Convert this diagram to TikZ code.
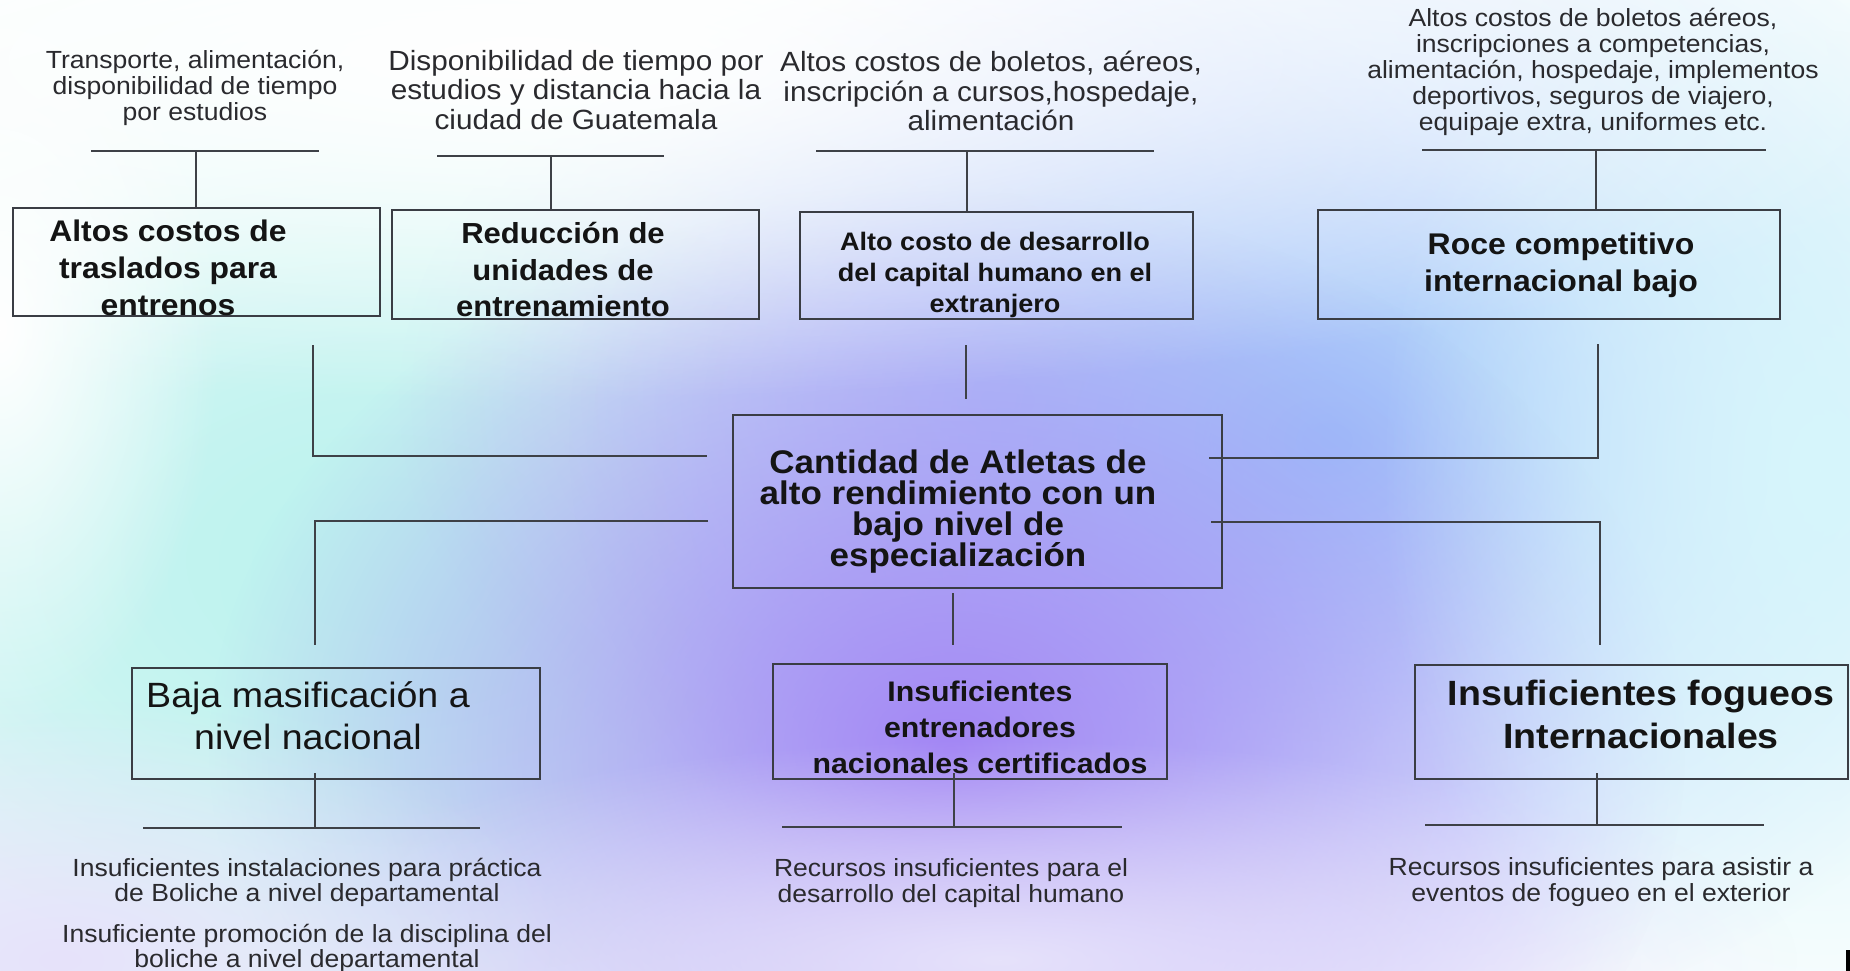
\documentclass[tikz,border=0pt]{standalone}
\usepackage{fontspec}
\setmainfont{Liberation Sans}[FakeStretch=1.07]
\usetikzlibrary{fadings}
\tikzfading[name=blob, inner color=transparent!0, outer color=transparent!100]
\definecolor{ln}{HTML}{3E4147}
\definecolor{bxc}{HTML}{3A3D44}
\definecolor{txt}{HTML}{2A2A2E}
\definecolor{cyanbg}{HTML}{BEF3EF}
\definecolor{bluebg}{HTML}{9EC6FA}
\definecolor{purpbg}{HTML}{A386F4}
\definecolor{lavbg}{HTML}{C9C6F7}
\definecolor{edgebg}{HTML}{D6F6FB}
\definecolor{lowbg}{HTML}{E6E2FB}
\newcommand\setfs[2]{\fontsize{#1}{#2}\selectfont}
\newcommand\blob[5]{\fill[#5, path fading=blob] (#1,#2) ellipse [x radius=2*#3pt, y radius=2*#4pt];}
\tikzset{
  lab/.style={align=center, text=txt, inner sep=0pt},
  btxt/.style={align=center, text=black!92, inner sep=0pt},
  bx/.style={draw=bxc, line width=2pt, inner sep=0pt},
  conn/.style={draw=ln, line width=2.2pt},
}
\begin{document}
\begin{tikzpicture}[x=1pt,y=-1pt]
\useasboundingbox (0,0) rectangle (1850,971);
% background
\fill[white] (0,0) rectangle (1850,971);
\begin{scope}
\clip (0,0) rectangle (1850,971);
\blob{380}{560}{520}{340}{cyanbg}
\blob{400}{580}{300}{200}{cyanbg}
\blob{1000}{400}{300}{220}{lavbg}
\blob{1330}{440}{380}{300}{bluebg}
\blob{950}{750}{370}{280}{purpbg}
\blob{1820}{470}{220}{330}{edgebg}
\blob{1000}{960}{400}{110}{lowbg}
\blob{60}{960}{260}{130}{lowbg}
\blob{520}{60}{760}{170}{white}
\blob{0}{330}{110}{200}{white}
\end{scope}

% top labels
\node[lab, font={\setfs{24.8}{26}}] (l1) at (195,88) {Transporte, alimentación,\\disponibilidad de tiempo\\por estudios};
\node[lab, font={\setfs{27.8}{29.5}}] (l2) at (576,90) {Disponibilidad de tiempo por\\estudios y distancia hacia la\\ciudad de Guatemala};
\node[lab, font={\setfs{27.8}{29.5}}] (l3) at (991,91) {Altos costos de boletos, aéreos,\\inscripción a cursos,hospedaje,\\alimentación};
\node[lab, font={\setfs{24.8}{26}}] (l4) at (1593,72) {Altos costos de boletos aéreos,\\inscripciones a competencias,\\alimentación, hospedaje, implementos\\deportivos, seguros de viajero,\\equipaje extra, uniformes etc.};

% top boxes
\node[bx, minimum width=367pt, minimum height=108pt] (b1) at (196.5,262) {};
\node[bx, minimum width=367pt, minimum height=109pt] (b2) at (575.5,264.5) {};
\node[bx, minimum width=393pt, minimum height=107pt] (b3) at (996.5,265.5) {};
\node[bx, minimum width=462pt, minimum height=109pt] (b4) at (1549,264.5) {};
\node[btxt, font={\setfs{29.8}{37}\bfseries}] (t1) at (168,268) {Altos costos de\\traslados para\\entrenos};
\node[btxt, font={\setfs{29}{36.5}\bfseries}] (t2) at (563,270) {Reducción de\\unidades de\\entrenamiento};
\node[btxt, font={\setfs{25.3}{31}\bfseries}] (t3) at (995,275) {Alto costo de desarrollo\\del capital humano en el\\extranjero};
\node[btxt, font={\setfs{29.9}{37}\bfseries}] (t4) at (1561,265) {Roce competitivo\\internacional bajo};

% top bars
\coordinate (h1a) at (91,151);   \coordinate (h1b) at (319,151);  \coordinate (w1) at (196,151);
\coordinate (h2a) at (437,156);  \coordinate (h2b) at (664,156);  \coordinate (w2) at (551,156);
\coordinate (h3a) at (816,151);  \coordinate (h3b) at (1154,151); \coordinate (w3) at (967,151);
\coordinate (h4a) at (1422,150); \coordinate (h4b) at (1766,150); \coordinate (w4) at (1596,150);
\draw[conn] (h1a) -- (h1b);
\draw[conn] (h2a) -- (h2b);
\draw[conn] (h3a) -- (h3b);
\draw[conn] (h4a) -- (h4b);
\draw[conn] (w1) -- (w1 |- b1.north);
\draw[conn] (w2) -- (w2 |- b2.north);
\draw[conn] (w3) -- (w3 |- b3.north);
\draw[conn] (w4) -- (w4 |- b4.north);

% center box
\node[bx, minimum width=489pt, minimum height=173pt] (cen) at (977.5,501.5) {};
\node[btxt, font={\setfs{32.7}{31}\bfseries}] (tc) at (958,511.5) {Cantidad de Atletas de\\alto rendimiento con un\\bajo nivel de\\especialización};

% bottom boxes
\node[bx, minimum width=408pt, minimum height=111pt] (bl) at (336,723.5) {};
\node[bx, minimum width=394pt, minimum height=115pt] (bc) at (970,721.5) {};
\node[bx, minimum width=433pt, minimum height=114pt] (br) at (1631.5,722) {};
\node[btxt, font={\setfs{35.1}{42}}] (tl) at (308,716) {Baja masificación a\\nivel nacional};
\node[btxt, font={\setfs{28.3}{36}\bfseries}] (tb) at (980,727) {Insuficientes\\entrenadores\\nacionales certificados};
\node[btxt, font={\setfs{35.1}{43}\bfseries}] (tr) at (1641,714.5) {Insuficientes fogueos\\Internacionales};

% connectors to center
\coordinate (k1) at (313,456);
\coordinate (k2) at (315,521);
\coordinate (k3) at (966,380);
\coordinate (k4) at (1598,458);
\coordinate (k5) at (1600,522);
\coordinate (k6) at (953,620);
\draw[conn, shorten <=28pt, shorten >=25pt] (b1.south -| k1) |- (cen.west |- k1);
\draw[conn, shorten <=24pt, shorten >=22pt] (cen.west |- k2) -| (bl.north -| k2);
\draw[conn, shorten <=25pt, shorten >=15pt] (b3.south -| k3) -- (cen.north -| k3);
\draw[conn, shorten <=-14pt, shorten >=24pt] (cen.east |- k4) -| (b4.south -| k4);
\draw[conn, shorten <=-12pt, shorten >=19pt] (cen.east |- k5) -| (br.north -| k5);
\draw[conn, shorten <=4pt, shorten >=18pt] (cen.south -| k6) -- (bc.north -| k6);

% bottom bars
\coordinate (v1) at (315,828);  \coordinate (u1a) at (143,828);  \coordinate (u1b) at (480,828);
\coordinate (v2) at (954,827);  \coordinate (u2a) at (782,827);  \coordinate (u2b) at (1122,827);
\coordinate (v3) at (1597,825); \coordinate (u3a) at (1425,825); \coordinate (u3b) at (1764,825);
\draw[conn] (u1a) -- (u1b);
\draw[conn] (u2a) -- (u2b);
\draw[conn] (u3a) -- (u3b);
\draw[conn, shorten <=-7pt] (bl.south -| v1) -- (v1);
\draw[conn, shorten <=-7pt] (bc.south -| v2) -- (v2);
\draw[conn, shorten <=-7pt] (br.south -| v3) -- (v3);

% bottom labels
\node[lab, font={\setfs{24.8}{25}}] (d1) at (307,882) {Insuficientes instalaciones para práctica\\de Boliche a nivel departamental};
\node[lab, font={\setfs{24.8}{25}}] (d2) at (307,948) {Insuficiente promoción de la disciplina del\\boliche a nivel departamental};
\node[lab, font={\setfs{24.8}{26}}] (d3) at (951,883) {Recursos insuficientes para el\\desarrollo del capital humano};
\node[lab, font={\setfs{24.8}{26}}] (d4) at (1601,882) {Recursos insuficientes para asistir a\\eventos de fogueo en el exterior};

\fill[black] (1846,950) rectangle (1850,971);
\end{tikzpicture}
\end{document}
